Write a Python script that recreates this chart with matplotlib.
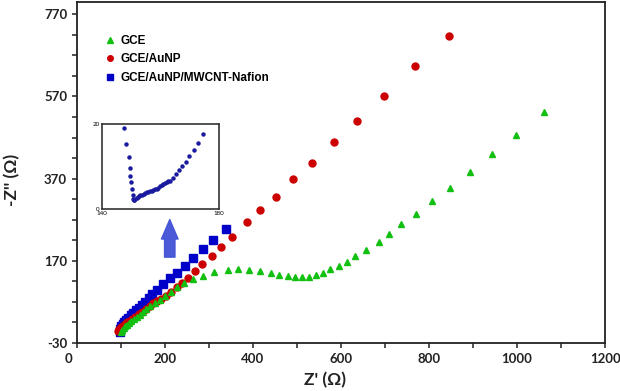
import matplotlib.pyplot as plt
from matplotlib.patches import FancyArrowPatch
from matplotlib.ticker import MultipleLocator, FixedLocator, FuncFormatter

# GCE (green triangles)
gce_x = [100, 103, 106, 110, 114, 119, 124, 130, 136, 143, 150, 158, 167, 177, 189, 200,
         214, 227, 243, 264, 286, 311, 343, 366, 391, 416, 441, 460, 480, 495, 511, 527,
         543, 559, 576, 595, 613, 632, 657, 686, 709, 737, 770, 807, 848, 893, 943, 998, 1061]
gce_y = [-3, 2, 6, 10, 14, 18, 23, 28, 33, 39, 45, 52, 59, 66, 75, 85,
         94, 106, 116, 126, 134, 143, 148, 149, 148, 144, 141, 136, 133, 131, 131, 131,
         135, 141, 150, 158, 168, 182, 197, 215, 236, 260, 285, 316, 348, 387, 431, 477, 531]

# GCE/AuNP (red circles)
aunp_x = [93, 96, 100, 104, 109, 114, 120, 126, 133, 140, 148, 156, 165, 174, 183, 192,
          202, 214, 227, 239, 252, 268, 285, 306, 327, 352, 386, 416, 452, 491, 534, 584,
          636, 698, 768, 845]
aunp_y = [0, 5, 9, 12, 16, 20, 24, 29, 34, 40, 46, 52, 59, 66, 72, 78,
          85, 94, 107, 116, 129, 146, 163, 182, 204, 229, 265, 294, 326, 368, 409, 460,
          511, 572, 643, 716]

# GCE/AuNP/MWCNT-Nafion (blue squares)
mwcnt_x = [97, 99, 101, 104, 108, 112, 117, 122, 128, 134, 141, 148, 155, 163, 171, 182,
           196, 211, 227, 245, 264, 286, 310, 338]
mwcnt_y = [-3, 4, 10, 16, 21, 26, 31, 37, 43, 49, 56, 63, 70, 79, 88, 100,
           114, 127, 141, 158, 176, 198, 221, 248]

# inset: zoom of the MWCNT-Nafion curve
inset_x = [147.4, 148.3, 149.2, 149.5, 149.7, 149.8, 150.1, 150.5, 150.7, 150.8, 151.1, 151.4,
           151.8, 152.2, 152.6, 153.1, 153.6, 154.2, 154.7, 155.3, 155.9, 156.5, 157.0, 157.6,
           158.2, 158.8, 159.3, 159.9, 160.5, 161.0, 161.6, 162.2, 162.7, 163.3, 164.2, 165.3,
           166.5, 167.5, 168.6, 169.9, 171.3, 172.7, 174.4]
inset_y = [19.0, 15.2, 12.3, 9.6, 7.7, 6.3, 4.7, 3.4, 2.3, 2.0, 2.1, 2.3,
           2.5, 2.8, 3.0, 3.2, 3.4, 3.6, 3.75, 3.9, 4.05, 4.2, 4.35, 4.5,
           4.65, 4.8, 5.05, 5.3, 5.55, 5.8, 6.05, 6.3, 6.5, 6.7, 7.4, 8.2,
           9.1, 10.0, 11.1, 12.5, 13.9, 15.6, 17.7]

labels = ['GCE', 'GCE/AuNP', 'GCE/AuNP/MWCNT-Nafion']
colors = ['#12c012', '#cc0000', '#0000c8']

plt.rcParams['font.family'] = ['Lato', 'DejaVu Sans']
plt.rcParams['axes.unicode_minus'] = False

fig = plt.figure(figsize=(6.2, 3.91), dpi=100)
ax = fig.add_axes([0.124, 0.123, 0.852, 0.872])

ax.plot(mwcnt_x, mwcnt_y, 's', color=colors[2], markersize=5.5, zorder=2, label=labels[2])
ax.plot(aunp_x, aunp_y, 'o', color=colors[1], markersize=5, zorder=3, label=labels[1])
ax.plot(gce_x, gce_y, '^', color=colors[0], markersize=5, zorder=4, label=labels[0])

ax.set_xlim(0, 1200)
ax.set_ylim(-30, 800)
ax.xaxis.set_major_locator(MultipleLocator(200))
ax.xaxis.set_minor_locator(MultipleLocator(100))
# the "0" label sits a little left of the corner, as in the original
ax.xaxis.set_major_formatter(FuncFormatter(lambda v, p: f'{v:.0f}' if v else '0\u2007\u2007'))
ax.yaxis.set_major_locator(FixedLocator([-30, 170, 370, 570, 770]))
ax.yaxis.set_minor_locator(FixedLocator(list(range(-30, 800, 50))))
ax.tick_params(which='both', direction='out', length=3.5, width=1.2, colors='#333333')
ax.tick_params(labelsize=9.5, labelcolor='#222222')
for lab in ax.get_xticklabels() + ax.get_yticklabels():
    lab.set_fontweight('bold')
for sp in ax.spines.values():
    sp.set_linewidth(1.3)
    sp.set_color('#222222')

ax.set_xlabel("Z' (\u03a9)", fontsize=12.5, fontweight='bold', color='#222222')
ax.set_ylabel("-Z'' (\u03a9)", fontsize=12.5, fontweight='bold', color='#222222')
ax.xaxis.set_label_coords(0.47, -0.085)
ax.yaxis.set_label_coords(-0.108, 0.478)

h, l = ax.get_legend_handles_labels()
order = [2, 1, 0]
leg = ax.legend([h[i] for i in order], [l[i] for i in order], loc='upper left',
                bbox_to_anchor=(0.033, 0.935), frameon=False, markerscale=0.8,
                handlelength=0.8, handletextpad=0.5, labelspacing=0.55,
                prop={'family': 'Liberation Sans', 'weight': 'bold', 'size': 8.5})

# arrow pointing to inset
arrow = FancyArrowPatch((211, 172), (211, 277), arrowstyle='simple,head_length=14,head_width=12,tail_width=7.5',
                        mutation_scale=1, color='#4152d6', alpha=0.95, zorder=1)
ax.add_patch(arrow)

# inset
axi = fig.add_axes([0.1645, 0.4655, 0.1887, 0.2174])
axi.plot(inset_x, inset_y, 'o', color='#1a1aa0', markersize=2.2)
axi.set_xlim(140, 180)
axi.set_ylim(0, 20)
axi.set_xticks([140, 180])
axi.set_yticks([0, 20])
axi.tick_params(length=0, labelsize=4.5, pad=1.5)
for sp in axi.spines.values():
    sp.set_linewidth(1.2)
    sp.set_color('#333333')

fig.savefig('out.png', dpi=100)
